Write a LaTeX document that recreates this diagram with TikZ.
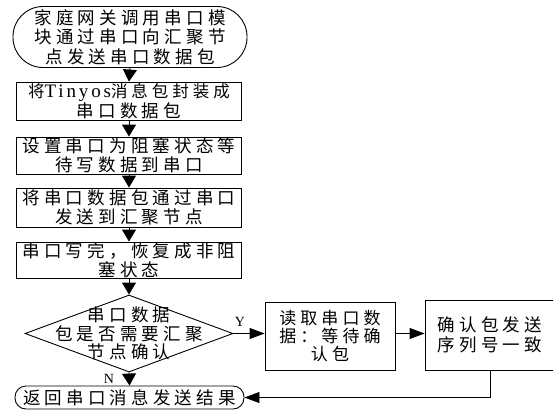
\documentclass[tikz,border=0pt]{standalone}
\usepackage{fontspec}
\setmainfont{Liberation Serif}
\newfontfamily\cjk[LetterSpace=24]{Noto Sans CJK SC}
\newfontfamily\lat[LetterSpace=15]{Liberation Serif}
\usetikzlibrary{arrows.meta,shapes.geometric}
\begin{document}
\begin{tikzpicture}[x=1pt,y=-1pt,
  every node/.style={inner sep=0pt},
  txt/.style={align=center,font=\cjk\fontsize{17.5}{19.5}\selectfont},
  stepbox/.style={draw,line width=0.9pt,txt},
  term/.style={draw,line width=0.9pt,txt},
  flow/.style={line width=0.9pt,-{Triangle[width=14pt,length=12pt]}},
  sflow/.style={line width=0.9pt,-{Triangle[width=11pt,length=15pt]}},
  lbl/.style={font=\fontsize{14}{16}\selectfont}
]
\useasboundingbox (0,0) rectangle (553,413);
\node[term,rounded corners=30pt,minimum width=234pt,minimum height=61pt] (start) at (130,37)
  {家庭网关调用串口模\\块通过串口向汇聚节\\点发送串口数据包};
\node[stepbox,minimum width=225pt,minimum height=38pt] (b1) at (129,101)
  {{\fontsize{16.5}{19.5}\selectfont 将{\lat\fontsize{19}{19.5}\selectfont Tinyos}消息包封装成}\\串口数据包};
\node[stepbox,minimum width=225pt,minimum height=37pt] (b2) at (129,155.5)
  {设置串口为阻塞状态等\\待写数据到串口};
\node[stepbox,minimum width=225pt,minimum height=39pt] (b3) at (129,207.5)
  {将串口数据包通过串口\\发送到汇聚节点};
\node[stepbox,minimum width=225pt,minimum height=36pt] (b4) at (129,260)
  {串口写完，恢复成非阻\\塞状态};
\node[draw,line width=0.9pt,diamond,minimum width=208pt,minimum height=77pt] (d) at (129,333.5) {};
\node[txt,font=\cjk\fontsize{17.5}{18.5}\selectfont] (dt) at (d.center) {串口数据\\包是否需要汇聚\\节点确认};
\node[stepbox,font=\cjk\fontsize{17}{18}\selectfont,minimum width=130pt,minimum height=68pt] (b5) at (330,336)
  {读取串口数\\据：等待确\\认包};
\node[stepbox,minimum width=130pt,minimum height=70pt] (b6) at (490,335)
  {确认包发送\\序列号一致};
\node[term,rounded corners=11pt,minimum width=229pt,minimum height=23pt] (end) at (129.5,397.5)
  {返回串口消息发送结果};
\draw[flow] (start.south) -- (b1.north);
\draw[flow] (b1) -- (b2);
\draw[flow] (b2) -- (b3);
\draw[flow] (b3) -- (b4);
\draw[flow] (b4) -- (d.north);
\draw[flow] (d.south) -- (end.north);
\draw[sflow] (d.east) -- (d.east -| b5.west);
\draw[sflow] (b5.east |- d.east) -- (b6.west |- d.east);
\draw[sflow] (b6.south) |- (end.east);
\node[lbl] (ly) at (240,322) {Y};
\node[lbl] (ln) at (109,379) {N};
\end{tikzpicture}
\end{document}
